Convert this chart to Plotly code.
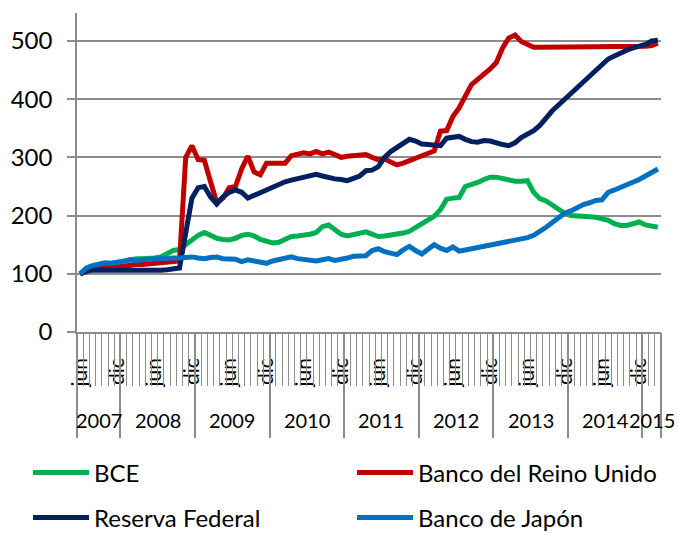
import pandas as pd
import plotly.graph_objects as go

# ---- data (monthly, jun 2007 - mar 2015, index 100 = jun 2007) ----
months = pd.date_range("2007-06-01", "2015-03-01", freq="MS")
month_names = {6: "jun", 12: "dic"}

bce = [100, 105, 110, 113, 116, 118, 121, 124, 125, 126, 126, 126, 127, 129, 135, 140, 142, 149, 158, 166,
       171, 166, 161, 159, 158, 161, 166, 168, 165, 159, 155, 153, 154, 158, 164, 165, 166, 168, 171, 181,
       184, 175, 168, 165, 168, 171, 172, 168, 164, 165, 166, 168, 170, 173, 180, 187, 194, 199, 210, 228,
       230, 231, 250, 253, 257, 262, 266, 266, 263, 262, 259, 259, 260, 240, 229, 225, 218, 211, 204, 200,
       200, 199, 198, 197, 195, 192, 186, 183, 183, 186, 189, 184, 183, 180]

boe = [100, 105, 108, 110, 110, 112, 112, 113, 115, 116, 116, 117, 117, 118, 118, 119, 122, 300, 320, 296,
       295, 258, 222, 230, 248, 250, 280, 302, 275, 270, 290, 290, 290, 290, 303, 306, 308, 306, 310, 306,
       309, 305, 300, 302, 303, 304, 305, 300, 296, 297, 292, 287, 290, 294, 298, 303, 307, 311, 345, 346,
       370, 385, 405, 425, 434, 442, 452, 463, 488, 505, 510, 499, 493, 489, 489, 489, 490, 490, 491, 490,
       489, 490, 490, 490, 489, 490, 490, 490, 490, 490, 490, 491, 492, 496]

fed = [100, 105, 106, 106, 105, 104, 104, 105, 104, 106, 104, 106, 105, 106, 107, 108, 110, 170, 230, 248,
       250, 232, 220, 232, 240, 244, 240, 230, 235, 240, 245, 250, 255, 258, 261, 264, 266, 268, 271, 268,
       265, 263, 262, 260, 264, 268, 277, 278, 284, 300, 310, 317, 322, 331, 328, 323, 322, 321, 320, 333,
       335, 336, 331, 327, 326, 329, 328, 324, 322, 320, 325, 334, 339, 346, 355, 368, 380, 390, 400, 410,
       420, 430, 440, 451, 461, 469, 474, 480, 484, 488, 491, 494, 500, 501]

boj = [100, 110, 114, 116, 119, 118, 119, 121, 124, 122, 124, 125, 126, 126, 127, 127, 127, 128, 129, 127,
       126, 128, 129, 126, 125, 125, 121, 124, 122, 121, 118, 122, 124, 126, 129, 126, 125, 123, 122, 124,
       126, 123, 124, 127, 130, 131, 131, 140, 143, 138, 135, 133, 141, 147, 140, 134, 142, 150, 144, 140,
       146, 139, 141, 143, 146, 148, 150, 152, 154, 156, 158, 160, 162, 166, 172, 180, 188, 195, 204, 208,
       214, 219, 222, 226, 227, 240, 244, 248, 254, 258, 262, 268, 274, 280]

series_names = ["BCE", "Banco del Reino Unido", "Reserva Federal", "Banco de Japón"]
series_values = [bce, boe, fed, boj]
series_colors = ["#00B050", "#C00000", "#002060", "#0070C0"]

y_ticks = [0, 100, 200, 300, 400, 500]

# ---- derived axis helpers ----
x = list(range(len(months)))
n = len(x)
tick_pos = [i for i, m in enumerate(months) if m.month in month_names]
tick_text = [month_names[months[i].month] for i in tick_pos]
cat_bounds = [i - 0.5 for i in x] + [x[-1] + 0.5]
years = sorted(set(m.year for m in months))
year_first = [min(i for i, m in enumerate(months) if m.year == yr) for yr in years]
year_last = [max(i for i, m in enumerate(months) if m.year == yr) for yr in years]
year_bounds = [f - 0.5 for f in year_first] + [year_last[-1] + 0.5]
year_centers_paper = [((a + b) / 2 + 0.5) / n for a, b in zip(year_first, year_last)]
x_range = [-0.5, x[-1] + 0.5]

GRID = "#8C8C8C"
FONT = "Lato"
W, H = 679, 533

# legend slots: (legend id, left px, row centre px) – two columns, two rows
legend_ids = ["legend", "legend2", "legend3", "legend4"]
legend_left = [28, 352, 28, 352]
legend_row = [473, 473, 518, 518]

fig = go.Figure()
for name, vals, col, lg in zip(series_names, series_values, series_colors, legend_ids):
    fig.add_trace(go.Scatter(x=x, y=vals, mode="lines", name=name, legend=lg,
                             line=dict(color=col, width=5)))

# invisible carriers so the helper axes (category ticks, year dividers) are drawn
fig.add_trace(go.Scatter(x=x_range, y=[None, None], xaxis="x2", showlegend=False, hoverinfo="skip"))
fig.add_trace(go.Scatter(x=x_range, y=[None, None], xaxis="x3", showlegend=False, hoverinfo="skip"))

for yr, c in zip(years, year_centers_paper):
    fig.add_annotation(x=c, y=-0.276, xref="paper", yref="paper", text=str(yr), showarrow=False,
                       font=dict(family=FONT, size=20, color="black"), xanchor="center", yanchor="middle")

legend_layout = {}
for lg, lx, ly in zip(legend_ids, legend_left, legend_row):
    legend_layout[lg] = dict(orientation="h", xref="container", yref="container", x=lx / W, y=1 - ly / H,
                             xanchor="left", yanchor="middle", itemwidth=56,
                             font=dict(family=FONT, size=24, color="black"), bgcolor="rgba(0,0,0,0)")

fig.update_layout(
    width=W, height=H,
    margin=dict(l=77, r=18, t=13, b=201, autoexpand=False),
    plot_bgcolor="white", paper_bgcolor="white",
    font=dict(family=FONT, size=21, color="black"),
    xaxis=dict(range=x_range, tickmode="array", tickvals=tick_pos, ticktext=tick_text,
               tickangle=-90, ticks="", showgrid=False, zeroline=False,
               showline=True, linecolor=GRID, linewidth=1.5, ticklabelstandoff=16,
               tickfont=dict(family=FONT, size=21, color="black")),
    xaxis2=dict(overlaying="x", anchor="y", side="bottom", range=x_range,
                tickmode="array", tickvals=cat_bounds, ticks="outside", ticklen=53,
                tickcolor=GRID, tickwidth=1.2, showticklabels=False, showgrid=False,
                showline=False, zeroline=False),
    xaxis3=dict(overlaying="x", anchor="y", side="bottom", range=x_range,
                tickmode="array", tickvals=year_bounds, ticks="outside", ticklen=105,
                tickcolor=GRID, tickwidth=1.5, showticklabels=False, showgrid=False,
                showline=False, zeroline=False),
    yaxis=dict(range=[0, 548], tickmode="array", tickvals=y_ticks, showgrid=True, gridcolor=GRID,
               gridwidth=1.5, showline=True, linecolor=GRID, linewidth=1.5, ticks="outside",
               ticklen=8, tickcolor=GRID, tickwidth=1.5, zeroline=False, ticklabelstandoff=10,
               tickfont=dict(family=FONT, size=24, color="black")),
    showlegend=True,
    **legend_layout,
)

fig.write_html("out.html", config={"displayModeBar": False},
               post_script="document.body.style.margin='0';")
